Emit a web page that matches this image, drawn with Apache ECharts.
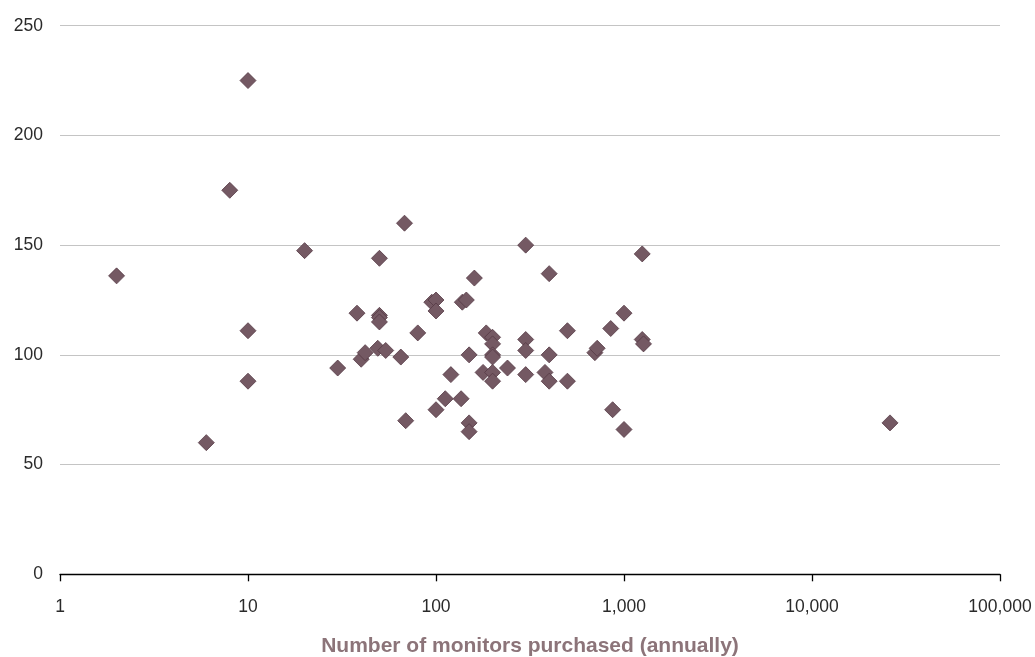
<!DOCTYPE html>
<html>
<head>
<meta charset="utf-8">
<script src="https://cdn.jsdelivr.net/npm/echarts@6/dist/echarts.min.js"></script>
<style>
html,body{margin:0;padding:0;background:#fff;}
#chart{width:1035px;height:657px;}
</style>
</head>
<body>
<div id="chart"></div>
<script>
// Number of monitors purchased (annually)
const monitorsPurchased = [2, 6, 8, 10, 10, 10, 20, 30, 38, 40, 42, 49, 50, 50, 50, 50, 54, 65, 68, 69,
  80, 95, 100, 100, 100, 112, 120, 136, 138, 145, 150, 150, 150, 160, 178, 185, 200, 200, 200, 200,
  200, 200, 240, 300, 300, 300, 300, 380, 400, 400, 400, 500, 500, 700, 720, 850, 870, 1000, 1000,
  1250, 1250, 1270, 26000];
// Value on the y axis
const yValues = [136, 60, 175, 225, 111, 88, 147.5, 94, 119, 98, 101, 103, 144, 118, 117, 115, 102, 99, 160, 70,
  110, 124, 125, 120, 75, 80, 91, 80, 124, 125, 100, 69, 65, 135, 92, 110, 108, 105, 100, 99,
  92, 88, 94, 150, 107, 102, 91, 92, 137, 100, 88, 111, 88, 101, 103, 112, 75, 119, 66,
  146, 107, 105, 69];
const yTicks = [0, 50, 100, 150, 200, 250];
const xTicks = [1, 10, 100, 1000, 10000, 100000];
const xTitle = 'Number of monitors purchased (annually)';

const points = monitorsPurchased.map((x, i) => [x, yValues[i]]);
const font = '"Liberation Sans", Arial, Helvetica, sans-serif';

const chart = echarts.init(document.getElementById('chart'));
chart.setOption({
  animation: false,
  backgroundColor: '#ffffff',
  grid: { left: 60, right: 35, top: 25.7, bottom: 82.7, containLabel: false, outerBoundsMode: 'none' },
  xAxis: {
    type: 'log',
    logBase: 10,
    min: xTicks[0],
    max: xTicks[xTicks.length - 1],
    name: xTitle,
    nameLocation: 'middle',
    nameGap: 61,
    nameTextStyle: { fontFamily: font, fontSize: 21, fontWeight: 'bold', color: '#8c7479' },
    axisLine: { show: true, lineStyle: { color: '#000', width: 1.3 } },
    axisTick: { show: true, length: 7, lineStyle: { color: '#000', width: 1.3 } },
    minorTick: { show: false },
    splitLine: { show: false },
    axisLabel: {
      fontFamily: font, fontSize: 17.5, color: '#2a2a2a', margin: 24,
      formatter: v => Math.round(v).toLocaleString('en-US')
    }
  },
  yAxis: {
    type: 'value',
    min: yTicks[0],
    max: yTicks[yTicks.length - 1],
    interval: 50,
    axisLine: { show: false },
    axisTick: { show: false },
    splitLine: { show: true, lineStyle: { color: '#c4c4c4', width: 1 } },
    axisLabel: { fontFamily: font, fontSize: 17.5, color: '#2a2a2a', margin: 17 }
  },
  series: [{
    type: 'scatter',
    data: points,
    symbol: 'diamond',
    symbolSize: [16, 16],
    itemStyle: { color: '#745963', borderColor: '#553a45', borderWidth: 0.8, opacity: 1 }
  }]
});
</script>
</body>
</html>
